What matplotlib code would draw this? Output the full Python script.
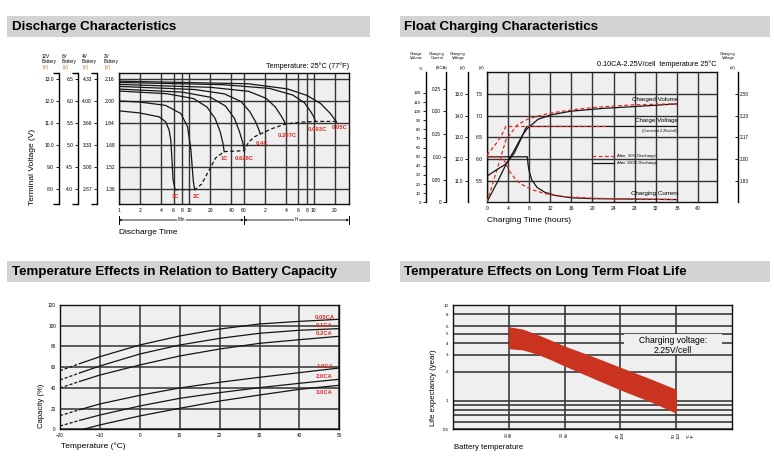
import matplotlib
matplotlib.use('Agg')
import matplotlib.pyplot as plt
from matplotlib.patches import Rectangle
from matplotlib.ticker import NullLocator, NullFormatter

W, H = 774, 475

# ---------------- Discharge characteristics (t in min, V on 12V battery scale)
time_ticks = [1, 2, 4, 6, 8, 10, 20, 40, 60, 120, 240, 360, 480, 600, 1200]
time_labels = ['1', '2', '4', '6', '8', '10', '20', '40', '60', '2', '4', '6', '8', '10', '20']
v12_ticks = [8, 9, 10, 11, 12, 13]
v12_labels = ['8.0', '9.0', '10.0', '11.0', '12.0', '13.0']
v6_labels = ['4.0', '4.5', '5.0', '5.5', '6.0', '6.5']
v4_labels = ['2.67', '3.00', '3.33', '3.66', '4.00', '4.33']
v2_labels = ['1.36', '1.52', '1.68', '1.84', '2.00', '2.16']

t_3c = [1, 1.93, 3.73, 4.64, 5.18, 5.47, 5.65, 5.9, 6.3]
v_3c = [11.53, 11.44, 11.26, 11.03, 10.66, 10.21, 9.46, 8.41, 7.95]
t_2c = [1, 2, 4.6, 7.6, 9.5, 10.6, 11.1, 11.5, 12.0]
v_2c = [11.98, 11.93, 11.78, 11.41, 10.81, 9.76, 8.9, 8.3, 7.95]
t_1c = [1, 4.8, 11.5, 17.9, 23.5, 27.7, 30.3, 31.6]
v_1c = [12.43, 12.31, 12.09, 11.71, 11.18, 10.58, 10.06, 9.68]
t_0628c = [1, 8, 20, 33, 44, 52, 58, 61]
v_0628c = [12.52, 12.38, 12.15, 11.75, 11.2, 10.6, 10.1, 9.72]
t_04c = [1, 12, 32, 55, 73, 88, 98, 103]
v_04c = [12.64, 12.5, 12.3, 11.95, 11.5, 11.05, 10.7, 10.48]
t_0207c = [1, 20, 70, 125, 170, 205, 225, 235]
v_0207c = [12.73, 12.6, 12.42, 12.1, 11.7, 11.3, 11.08, 10.93]
t_0093c = [1, 30, 140, 300, 440, 540, 600, 631]
v_0093c = [12.82, 12.72, 12.55, 12.25, 11.9, 11.5, 11.25, 11.05]
t_005c = [1, 70, 250, 480, 750, 1030, 1180, 1260]
v_005c = [12.88, 12.76, 12.53, 12.23, 11.86, 11.41, 11.15, 11.02]

end_t = [6.3, 12, 15, 19, 24, 31.6, 61, 70, 85, 103, 160, 235, 400, 631, 1260]
end_v = [7.95, 7.95, 8.2, 8.8, 9.4, 9.68, 9.72, 10.1, 10.35, 10.48, 10.75, 10.93, 11.02, 11.05, 11.05]

rate_names = ['3C', '2C', '1C', '0.628C', '0.4C', '0.207C', '0.093C', '0.05C']
rate_lbl_t = [6.4, 12.8, 31.6, 61, 111, 250, 680, 1380]
rate_lbl_v = [7.66, 7.66, 9.38, 9.38, 10.03, 10.39, 10.69, 10.76]

# ---------------- Float charging (hours)
hours_ticks = [0, 4, 8, 12, 16, 20, 24, 28, 32, 36, 40]
v6_ticks = [5.5, 6.0, 6.5, 7.0, 7.5]
vol_ticks = [0, 10, 20, 30, 40, 50, 60, 70, 80, 90, 100, 110, 120]
cur_ticks = [0, 0.05, 0.10, 0.15, 0.20, 0.25]
cur_labels = ['0', '0.05', '0.10', '0.15', '0.20', '0.25']
cv12_ticks = [11, 12, 13, 14, 15]
cv12_labels = ['11.0', '12.0', '13.0', '14.0', '15.0']
cell_ticks = [11 / 6, 2.0, 13 / 6, 14 / 6, 2.5]
cell_labels = ['1.83', '2.00', '2.17', '2.33', '2.50']

vol_t_100 = [0, 2, 3.6, 5.2, 6.8, 7.7, 9.7, 12.2, 16, 22, 28, 36]
vol_100 = [0, 22, 41, 57, 74, 81, 91, 96, 100, 103, 105, 108]
vol_t_50 = [0, 1, 2, 3, 3.6, 4.6, 5.8, 7.7, 10, 12.2, 15.7, 18.5, 22.5, 28, 36]
vol_50 = [0, 18, 37, 56, 68, 76, 85, 91, 95, 98, 101, 103, 105, 107, 108]
volt_t_100 = [0, 2, 3.6, 5.2, 6.4, 7.3, 7.6, 36]
volt_100 = [11.2, 11.52, 11.76, 12.26, 12.88, 13.38, 13.5, 13.5]
volt_t_50 = [0, 1.4, 2.7, 3.3, 3.6, 22.6]
volt_50 = [12.18, 12.58, 13.04, 13.34, 13.5, 13.5]
cur_t_100 = [0, 7.7, 7.8, 8.0, 8.5, 9.5, 11, 13, 16, 20, 28, 36]
cur_100 = [0.10, 0.10, 0.085, 0.07, 0.05, 0.033, 0.022, 0.015, 0.010, 0.008, 0.007, 0.006]
cur_t_50 = [0, 3.0, 3.6, 4.5, 5.5, 6.5, 8.5, 11, 14, 20, 28, 36]
cur_50 = [0.10, 0.10, 0.085, 0.065, 0.05, 0.04, 0.028, 0.019, 0.013, 0.009, 0.007, 0.006]

# ---------------- Temperature vs capacity
temps = [-20, -15, -10, 0, 10, 20, 30, 40, 50]
cap_005 = [56.6, 63.5, 70.1, 81.4, 90.1, 96.8, 101.7, 104.2, 106.2]
cap_01 = [47.6, 54.5, 61.1, 72.7, 81.4, 87.8, 92.7, 95.6, 97.2]
cap_02 = [39.9, 46.3, 52.4, 62.1, 70.8, 77.5, 83.0, 86.5, 89.8]
cap_10 = [13.2, 19.0, 24.5, 32.8, 39.9, 45.4, 50.2, 54.7, 59.2]
cap_20 = [3.2, 8.7, 13.8, 22.5, 29.9, 35.4, 40.2, 44.4, 48.3]
temps_30 = [-14.2, -10, 0, 10, 20, 30, 40, 50]
cap_30 = [0, 4.2, 12.9, 20.3, 27.3, 33.1, 38.6, 42.5]
cap_names = ['0.05CA', '0.1CA', '0.2CA', '1.0CA', '2.0CA', '3.0CA']
cap_lbl_y = [108, 100.4, 92.3, 60.5, 50.8, 36]

# ---------------- Float life
life_temp = [20, 22.5, 25, 27.5, 30, 35, 40, 45, 50]
life_hi = [5.93, 5.6, 4.95, 4.3, 3.72, 2.9, 2.23, 1.72, 1.31]
life_lo = [3.49, 3.39, 3.07, 2.68, 2.30, 1.72, 1.29, 0.99, 0.735]
life_ticks = [0.5, 1, 2, 3, 4, 5, 6, 8, 10]
life_labels = ['0.5', '1', '2', '3', '4', '5', '6', '8', '10']
life_minor = [0.6, 0.7, 0.8, 0.9]
bt_ticks = [20, 30, 40, 50]
bt_labels = ['20\n68', '30\n86', '40\n104', '50\n122']

plt.rcParams['font.family'] = ['Liberation Sans', 'DejaVu Sans']
BG = '#efefef'
GRID = '#333333'
RED = '#e02b24'
LINE = '#151515'

fig = plt.figure(figsize=(W / 100, H / 100), dpi=100)


def px_axes(x0, y0, x1, y1):
    return fig.add_axes([x0 / W, 1 - y1 / H, (x1 - x0) / W, (y1 - y0) / H])


def ftext(x, y, s, **kw):
    fig.text(x / W, 1 - y / H, s, **kw)


def title_bar(x0, y0, x1, y1, s):
    fig.add_artist(Rectangle((x0 / W, 1 - y1 / H), (x1 - x0) / W, (y1 - y0) / H,
                             transform=fig.transFigure, fc='#d3d3d5', ec='none'))
    ftext(x0 + 4.5, (y0 + y1) / 2 + 0.5, s, fontsize=9.6, fontweight='bold', va='center',
          family=['Liberation Sans Narrow', 'Liberation Sans', 'DejaVu Sans'])


def side_axis(host, pos, ylim, ticks, labels, side='left', cap=False, fs=3.5):
    a = host.twinx()
    a.set_ylim(ylim)
    for s in ['left', 'right', 'top', 'bottom']:
        a.spines[s].set_visible(s == side)
    a.spines[side].set_position(('axes', pos))
    a.spines[side].set_linewidth(1.0)
    a.yaxis.set_ticks_position(side)
    a.set_yticks(ticks, labels)
    a.tick_params(axis='y', direction='out' if side == 'left' else 'in', length=2,
                  width=0.6, labelsize=fs, pad=1.5)
    if cap:
        for yy in (0, 1):
            a.plot([pos - 0.025, pos], [yy, yy], transform=a.transAxes, color='k',
                   lw=1.0, clip_on=False, solid_capstyle='butt')
    return a


def style_frame(ax):
    ax.set_facecolor(BG)
    for s in ax.spines.values():
        s.set_linewidth(1.0)
        s.set_color('#111111')
    ax.set_axisbelow(True)


title_bar(7, 16, 370, 37, 'Discharge Characteristics')
title_bar(400, 16, 770, 37, 'Float Charging Characteristics')
title_bar(7, 261, 370, 282, 'Temperature Effects in Relation to Battery Capacity')
title_bar(400, 261, 770, 282, 'Temperature Effects on Long Term Float Life')

# ======== Panel 1
ax1 = px_axes(119, 73, 349, 204)
style_frame(ax1)
ax1.set_xscale('log')
ax1.set_xlim(1, 1900)
ax1.set_ylim(7.3, 13.25)
ax1.set_xticks(time_ticks, time_labels)
ax1.xaxis.set_minor_locator(NullLocator())
ax1.set_yticks(v12_ticks, v2_labels)
ax1.tick_params(length=0, labelsize=3.6, pad=3)
ax1.grid(True, color=GRID, lw=1.0)

for t, v in [(t_3c, v_3c), (t_2c, v_2c), (t_1c, v_1c), (t_0628c, v_0628c), (t_04c, v_04c),
             (t_0207c, v_0207c), (t_0093c, v_0093c), (t_005c, v_005c)]:
    ax1.plot(t, v, color=LINE, lw=0.9)
ax1.plot(end_t, end_v, color=LINE, lw=0.9, ls=(0, (3, 2)))
for name, x, y in zip(rate_names, rate_lbl_t, rate_lbl_v):
    ax1.text(x, y, name, color=RED, fontsize=4.2, fontweight='bold', ha='center', va='center')

side_axis(ax1, -0.261, ax1.get_ylim(), v12_ticks, v12_labels, cap=True)
side_axis(ax1, -0.178, ax1.get_ylim(), v12_ticks, v6_labels, cap=True)
side_axis(ax1, -0.096, ax1.get_ylim(), v12_ticks, v4_labels, cap=True)

ax1.text(1, 1.055, 'Temperature: 25°C (77°F)', transform=ax1.transAxes, ha='right',
         va='center', fontsize=5.2)
for x, head in [(42, '12V'), (62, '6V'), (82, '4V'), (104, '2V')]:
    ftext(x, 56, head, fontsize=3.3, va='center')
    ftext(x, 61.5, 'Battery', fontsize=3.3, va='center')
    ftext(x + 1, 67, '(V)', fontsize=3.3, va='center', color='#b8741f')

xt = ax1.get_xaxis_transform()
ax1.annotate('', xy=(1, -0.122), xytext=(60, -0.122), xycoords=xt, textcoords=xt,
             arrowprops=dict(arrowstyle='<->', lw=0.6, shrinkA=0, shrinkB=0, mutation_scale=3),
             annotation_clip=False)
ax1.annotate('', xy=(60, -0.122), xytext=(1900, -0.122), xycoords=xt, textcoords=xt,
             arrowprops=dict(arrowstyle='<->', lw=0.6, shrinkA=0, shrinkB=0, mutation_scale=3),
             annotation_clip=False)
for xb in (1, 60, 1900):
    ax1.plot([xb, xb], [-0.095, -0.15], transform=xt, color='k', lw=0.7, clip_on=False)
ax1.text(7.7, -0.122, 'Min', transform=xt, ha='center', va='center', fontsize=3.3,
         bbox=dict(fc='white', ec='none', pad=0.6))
ax1.text(340, -0.122, 'H', transform=xt, ha='center', va='center', fontsize=3.3,
         bbox=dict(fc='white', ec='none', pad=0.6))
ftext(119, 233, 'Discharge Time', fontsize=6, va='center')
ftext(32, 167, 'Terminal Voltage (V)', fontsize=6, va='center', ha='center', rotation=90)

# ======== Panel 2
ax2 = px_axes(486.7, 72.3, 716.7, 202.3)
style_frame(ax2)
ax2.set_xlim(0, 43.5)
ax2.set_ylim(5.0, 8.0)
ax2.set_xticks(hours_ticks)
ax2.set_yticks(v6_ticks, ['5.5', '6.0', '6.5', '7.0', '7.5'])
ax2.tick_params(length=0, labelsize=3.6, pad=3)
ax2.grid(True, color=GRID, lw=1.0)

axv = side_axis(ax2, -0.265, (0, 142.6), vol_ticks, [str(v) for v in vol_ticks], fs=3.2)
axc = side_axis(ax2, -0.177, (0, 0.2857), cur_ticks, cur_labels, fs=3.3)
ax12 = side_axis(ax2, -0.08, (10, 16), cv12_ticks, cv12_labels, fs=3.3)
side_axis(ax2, 1.091, (5 / 3, 8 / 3), cell_ticks, cell_labels, side='right', fs=3.3)

axv.plot(vol_t_100, vol_100, color=LINE, lw=0.9)
axv.plot(vol_t_50, vol_50, color=RED, lw=0.9, ls=(0, (3, 2)))
ax12.plot(volt_t_100, volt_100, color=LINE, lw=0.9)
ax12.plot(volt_t_50, volt_50, color=RED, lw=0.9, ls=(0, (3, 2)))
axc.plot(cur_t_100, cur_100, color=LINE, lw=0.9)
axc.plot(cur_t_50, cur_50, color=RED, lw=0.9, ls=(0, (3, 2)))

ax2.text(36.2, 7.38, 'Charged Volume', ha='right', va='center', fontsize=4.5)
ax2.text(36.2, 6.88, 'Charge Voltage', ha='right', va='center', fontsize=4.5)
ax2.text(36.2, 6.65, '(Constant 2.25v/cell)', ha='right', va='center', fontsize=2.8)
ax2.text(36.2, 5.21, 'Charging Current', ha='right', va='center', fontsize=4.5)
ax2.plot([19.9, 24.1], [6.075, 6.075], color=RED, lw=0.9, ls=(0, (3, 2)))
ax2.plot([19.9, 24.1], [5.914, 5.914], color=LINE, lw=0.9)
ax2.text(24.6, 6.075, 'After  50% Discharge', va='center', fontsize=3.0)
ax2.text(24.6, 5.914, 'After 100% Discharge', va='center', fontsize=3.0)
ax2.text(1, 1.06, '0.10CA-2.25V/cell  temperature 25°C', transform=ax2.transAxes,
         ha='right', va='center', fontsize=5.2)

for x, head, unit in [(416, 'Charge\nVolume', '%'), (437, 'Charging\nCurrent', '(XCA)'),
                      (458, 'Charging\nVoltage', '(V)'), (728, 'Charging\nVoltage', '(V)')]:
    ftext(x, 56, head, fontsize=2.8, ha='center', va='center', linespacing=0.95)
    ftext(x + 5, 68.5, unit, fontsize=3.2, ha='center', va='center')
ftext(481.5, 68.5, '(V)', fontsize=3.2, ha='center', va='center')
ftext(486.7, 220, 'Charging Time (hours)', fontsize=6, va='center')

# ======== Panel 3
ax3 = px_axes(60, 305, 339.3, 429.3)
style_frame(ax3)
ax3.set_xlim(-20, 50)
ax3.set_ylim(0, 120)
ax3.set_xticks([-20, -10, 0, 10, 20, 30, 40, 50])
ax3.set_yticks([0, 20, 40, 60, 80, 100, 120])
ax3.tick_params(length=0, labelsize=3.4, pad=3)
ax3.grid(True, color=GRID, lw=1.1)

for caps in [cap_005, cap_01, cap_02, cap_10, cap_20]:
    ax3.plot(temps[:2], caps[:2], color=LINE, lw=0.9, ls=(0, (2.5, 1.5)))
    ax3.plot(temps[1:], caps[1:], color=LINE, lw=0.9)
ax3.plot(temps_30, cap_30, color=LINE, lw=0.9)
for name, y in zip(cap_names, cap_lbl_y):
    ax3.text(46.3, y, name, color=RED, fontsize=4.2, fontweight='bold', ha='center', va='center')
ftext(61, 446.5, 'Temperature (°C)', fontsize=6, va='center')
ftext(41.5, 406, 'Capacity (%)', fontsize=5.6, va='center', ha='center', rotation=90)

# ======== Panel 4
ax4 = px_axes(452.7, 305, 732.3, 429.3)
style_frame(ax4)
ax4.set_yscale('log')
ax4.set_xlim(10, 60)
ax4.set_ylim(0.5, 10)
ax4.set_yticks(life_ticks, life_labels)
ax4.set_yticks(life_minor, minor=True)
ax4.yaxis.set_minor_formatter(NullFormatter())
ax4.set_xticks(bt_ticks, bt_labels)
ax4.tick_params(which='both', length=0, labelsize=3.2, pad=3)
ax4.tick_params(axis='x', labelrotation=90, pad=2)
ax4.grid(True, which='both', color='#3a3a3a', lw=1.2)

ax4.fill_between(life_temp, life_lo, life_hi, color='#c9331f', lw=0, zorder=2)
ax4.add_patch(Rectangle((40.6, 3.07), 17.5, 1.85, fc=BG, ec='none', zorder=1.5))
ax4.text(49.4, 4.2, 'Charging voltage:', ha='center', va='center', fontsize=6.2, zorder=3)
ax4.text(49.4, 3.33, '2.25V/cell', ha='center', va='center', fontsize=6.2, zorder=3)
ax4.text(52.6, -0.03, '°C\n°F', transform=ax4.get_xaxis_transform(), rotation=90,
         ha='center', va='top', fontsize=3.2)
ftext(454, 447.5, 'Battery temperature', fontsize=5.6, va='center')
ftext(433.5, 388, 'Life expectancy (year)', fontsize=5.6, va='center', ha='center', rotation=90)

fig.savefig('out.png', dpi=100, facecolor='white')
